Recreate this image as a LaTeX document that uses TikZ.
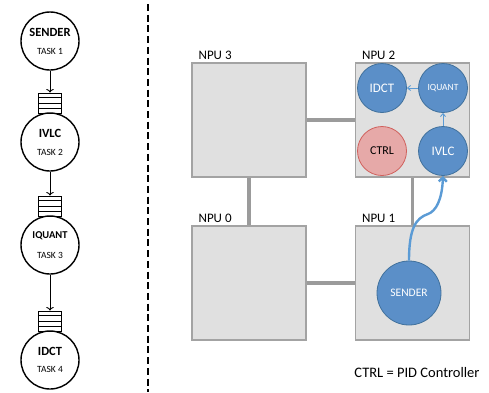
\documentclass[tikz,border=0pt]{standalone}
\usepackage{fontspec}
\setmainfont{Carlito}
\usetikzlibrary{arrows.meta,positioning,calc}

\definecolor{taskfill}{HTML}{5B8FC8}
\definecolor{taskedge}{HTML}{41719C}
\definecolor{ctrlfill}{HTML}{E6A9A8}
\definecolor{ctrledge}{HTML}{D0605C}
\definecolor{npufill}{HTML}{E0E0E0}
\definecolor{npuedge}{HTML}{A3A3A3}
\definecolor{flowblue}{HTML}{5B9BD5}

\begin{document}
\begin{tikzpicture}[x=1pt,y=-1pt,on grid,
	task/.style={circle,draw,line width=1.4pt,minimum size=58pt,inner sep=0pt,align=center,font=\fontsize{12.5}{14}\selectfont},
	queue/.style={draw,line width=0.9pt,minimum width=23pt,minimum height=20pt,inner sep=0pt},
	npu/.style={draw=npuedge,fill=npufill,line width=1.2pt,minimum width=114pt,minimum height=114pt},
	npulbl/.style={anchor=south west,xshift=4pt,inner sep=3pt,font=\fontsize{13}{15}\selectfont},
	core/.style={circle,draw=taskedge,fill=taskfill,line width=0.8pt,minimum size=49pt,inner sep=0pt,text=white},
	link/.style={draw=npuedge!95!black,line width=3.5pt},
	flow/.style={draw=flowblue,line width=0.9pt,-{Straight Barb[length=3pt,width=5pt]}}]
	\useasboundingbox (0,0) rectangle (489,392);

	% task graph
	\node[task] (sender) at (50,41) {\textbf{SENDER}\\[4pt]{\fontsize{9.5}{11}\selectfont TASK 1}};
	\node[task, below=101pt of sender] (ivlc) {\textbf{IVLC}\\[4pt]{\fontsize{9.5}{11}\selectfont TASK 2}};
	\node[task, below=103pt of ivlc] (iquant) {\fontsize{10.5}{12}\selectfont\textbf{IQUANT}\\[6pt]{\fontsize{9.5}{11}\selectfont TASK 3}};
	\node[task, below=115pt of iquant] (idct) {\textbf{IDCT}\\[3pt]{\fontsize{9.5}{11}\selectfont TASK 4}};
	\node[queue, above=39pt of ivlc] (q1) {};
	\node[queue, above=39pt of iquant] (q2) {};
	\node[queue, above=39pt of idct] (q3) {};
	\foreach \q in {q1,q2,q3}
		\foreach \i in {1,2,3}
			\draw[line width=0.7pt] ($(\q.north west)!\i/4!(\q.south west)$) -- ($(\q.north east)!\i/4!(\q.south east)$);

	\path[->,line width=0.9pt] (sender) edge (q1)
	(ivlc) edge (q2)
	(iquant) edge (q3);

	\draw[line width=2pt,dash pattern=on 7pt off 3.7pt] (148,4) -- (148,392);

	% platform
	\node[npu, label={[npulbl]north west:NPU 3}] (npu3) at (249,120) {};
	\node[npu, label={[npulbl]north west:NPU 2}] (npu2) at (412.5,120) {};
	\node[npu, label={[npulbl]north west:NPU 0}] (npu0) at (249,283) {};
	\node[npu, label={[npulbl]north west:NPU 1}] (npu1) at (412.5,283) {};
	\path[link] (npu3) -- (npu2)
	(npu0) -- (npu1)
	(npu3) -- (npu0)
	(npu2) -- (npu1);

	\node[core, font=\fontsize{13}{14}\selectfont] (cidct) at (382,88) {IDCT};
	\node[core, font=\fontsize{9.5}{10}\selectfont] (ciquant) at (443,88) {IQUANT};
	\node[core, draw=ctrledge, fill=ctrlfill, text=black, font=\fontsize{12}{13}\selectfont] (cctrl) at (382,151) {CTRL};
	\node[core, font=\fontsize{13}{14}\selectfont] (civlc) at (443,151) {IVLC};
	\node[core, minimum size=64pt, font=\fontsize{11.5}{12}\selectfont] (csender) at (409,293) {SENDER};

	\path[flow] (ciquant) edge (cidct)
	(civlc) edge (ciquant);
	\coordinate (bend) at (428,214);
	\draw[flow, line width=2.4pt, -{Straight Barb[length=4pt,width=8pt]}] (csender.north) .. controls (409,228) and (416,218) .. (bend) .. controls (436,211) and (442,200) .. (civlc.south);

	\node[font=\fontsize{14.5}{16}\selectfont] (note) at (417,373) {CTRL = PID Controller};
\end{tikzpicture}
\end{document}
